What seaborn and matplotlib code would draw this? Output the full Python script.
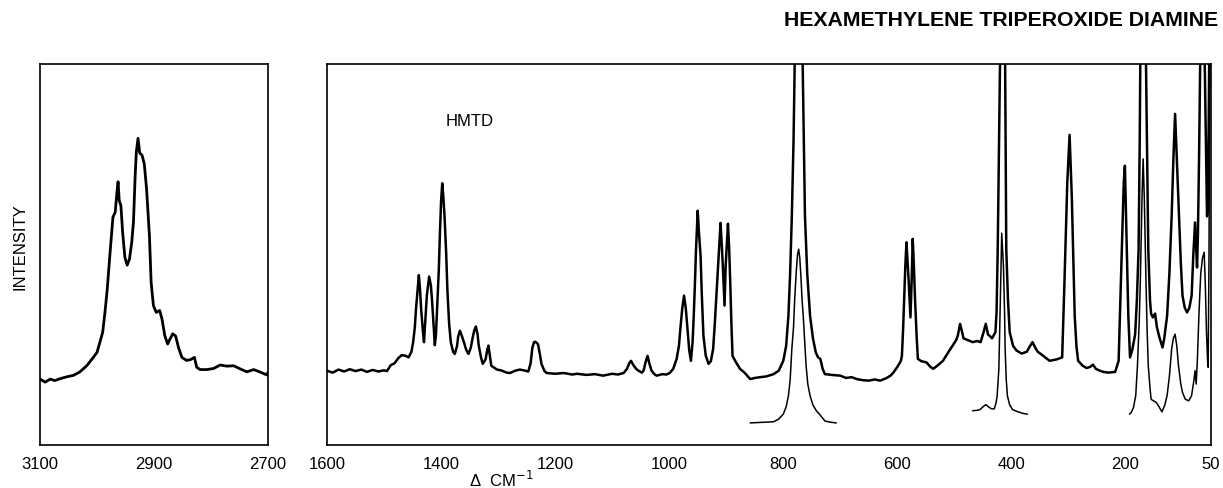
import numpy as np
import pandas as pd
import matplotlib
matplotlib.use("Agg")
import matplotlib.pyplot as plt
import seaborn as sns

# C-H stretch region (left panel)
ch_wn = [3100, 3091, 3082, 3074, 3065, 3053, 3041, 3030, 3018, 3009, 3000, 2995,
         2990, 2986, 2982, 2977, 2972, 2968, 2965, 2963, 2961, 2958, 2955, 2951,
         2947, 2943, 2939, 2936, 2933, 2931, 2928, 2925, 2921, 2917, 2913, 2908,
         2905, 2901, 2896, 2890, 2886, 2881, 2876, 2872, 2867, 2862, 2857, 2851,
         2843, 2836, 2829, 2825, 2819, 2807, 2795, 2784, 2772, 2760, 2749, 2737,
         2725, 2713, 2702, 2700]
ch_int = [17.3, 16.5, 17.3, 16.9, 17.4, 17.9, 18.3, 19.2, 20.8, 22.5, 24.3, 26.9,
          29.6, 34.8, 40.9, 50.6, 59.8, 61.1, 66.3, 69.1, 64.2, 62.8, 55.8, 49.2,
          47.2, 48.8, 53.2, 58.5, 70.7, 76.8, 80.5, 76.6, 76.1, 73.8, 67.2, 55.0,
          42.7, 36.6, 34.8, 35.3, 33.1, 28.7, 26.5, 27.8, 29.2, 28.6, 25.6, 23.0,
          22.2, 22.4, 23.0, 20.4, 19.8, 19.8, 20.1, 21.0, 20.7, 20.8, 20.0, 19.2,
          19.8, 19.1, 18.4, 19.1]

# fingerprint region, main trace
fp_wn = [1600, 1590, 1580, 1570, 1560, 1550, 1540, 1530, 1520, 1510, 1500, 1495,
         1488, 1482, 1475, 1469, 1462, 1457, 1452, 1449, 1446, 1444, 1441, 1439,
         1437, 1435, 1432, 1430, 1428, 1425, 1421, 1418, 1416, 1413, 1411, 1409,
         1407, 1404, 1402, 1400, 1398, 1396, 1394, 1391, 1389, 1386, 1383, 1379,
         1376, 1372, 1370, 1367, 1364, 1360, 1356, 1352, 1348, 1345, 1342, 1339,
         1336, 1334, 1330, 1327, 1322, 1319, 1317, 1315, 1312, 1306, 1302, 1295,
         1285, 1279, 1270, 1262, 1255, 1247, 1243, 1240, 1237, 1235, 1232, 1230,
         1227, 1224, 1219, 1215, 1200, 1185, 1170, 1162, 1145, 1130, 1116, 1100,
         1090, 1080, 1074, 1070, 1067, 1063, 1058, 1054, 1048, 1045, 1041, 1038,
         1035, 1031, 1026, 1022, 1012, 1005, 999, 993, 987, 983, 980, 977,
         974, 971, 968, 965, 962, 959, 957, 955, 953, 950, 948, 945,
         943, 940, 936, 931, 927, 923, 920, 916, 913, 910, 908, 906,
         903, 901, 897, 895, 893, 891, 889, 884, 876, 868, 858, 850,
         841, 830, 817, 808, 800, 795, 791, 788, 785, 782, 780, 777,
         773, 769, 766, 764, 762, 758, 753, 748, 743, 739, 735, 731,
         727, 715, 700, 690, 680, 671, 660, 650, 640, 630, 620, 612,
         607, 600, 594, 592, 590, 588, 586, 584, 582, 580, 577, 575,
         573, 571, 569, 566, 564, 558, 549, 542, 537, 530, 520, 510,
         503, 497, 494, 490, 487, 484, 476, 468, 460, 454, 449, 445,
         441, 437, 434, 428, 426, 424, 422, 420, 417, 414, 411, 409,
         406, 403, 397, 391, 382, 373, 368, 363, 358, 354, 345, 333,
         320, 311, 307, 302, 298, 294, 289, 286, 283, 275, 268, 262,
         257, 252, 245, 239, 230, 218, 212, 208, 203, 201, 199, 195,
         192, 188, 183, 180, 177, 175, 174, 170, 164, 162, 160, 157,
         155, 152, 148, 145, 140, 135, 132, 127, 123, 119, 116, 113,
         110, 107, 103, 100, 96, 92, 88, 84, 81, 78, 76, 74.5,
         73, 71, 69, 67, 64, 61, 59, 57, 55.5, 54, 53, 51.5]
fp_int = [19.5, 19.0, 19.8, 19.3, 19.9, 19.4, 19.8, 19.2, 19.7, 19.3, 19.6, 19.4,
          21.0, 21.4, 22.8, 23.6, 23.4, 23.0, 24.5, 27.0, 31.0, 35.7, 41.0, 44.6,
          41.0, 35.7, 30.0, 27.0, 32.0, 39.2, 44.2, 42.0, 38.3, 31.0, 26.2, 29.0,
          35.7, 46.0, 55.8, 64.0, 68.7, 65.0, 60.2, 50.0, 40.9, 32.0, 27.0, 24.5,
          23.9, 26.0, 28.5, 30.0, 28.8, 27.0, 25.0, 23.9, 25.5, 27.9, 30.0, 31.1,
          29.0, 26.1, 23.0, 21.3, 22.5, 25.0, 26.1, 24.0, 20.8, 20.2, 19.8, 19.6,
          19.0, 18.9, 19.5, 19.8, 19.6, 19.3, 21.5, 25.5, 27.0, 27.1, 26.8, 26.4,
          24.0, 21.3, 19.5, 18.9, 18.7, 18.9, 18.5, 18.7, 18.4, 18.6, 18.2, 18.7,
          18.5, 18.9, 20.0, 21.5, 22.1, 21.0, 20.0, 19.5, 19.0, 19.5, 22.0, 23.4,
          21.5, 19.5, 18.6, 18.2, 18.6, 18.5, 18.9, 20.0, 22.6, 26.0, 31.3, 36.0,
          39.2, 36.0, 30.4, 25.0, 22.1, 27.0, 33.9, 42.0, 51.4, 61.5, 56.0, 49.7,
          40.0, 28.7, 23.5, 21.3, 22.0, 25.2, 32.0, 42.7, 51.0, 58.3, 53.0, 47.1,
          36.6, 47.1, 58.1, 52.0, 42.7, 32.0, 23.4, 22.0, 20.0, 19.0, 17.3, 17.6,
          17.8, 18.0, 18.6, 19.5, 22.1, 26.0, 33.9, 45.0, 60.2, 80.0, 100.0, 120.0,
          130.0, 120.0, 100.0, 80.0, 60.2, 45.0, 33.9, 28.0, 24.3, 23.0, 22.6, 20.0,
          18.6, 18.4, 18.2, 17.6, 17.8, 17.3, 17.0, 16.9, 17.2, 16.9, 17.5, 18.2,
          19.0, 20.5, 22.0, 23.4, 30.0, 38.3, 47.0, 53.2, 48.0, 42.7, 33.5, 42.7,
          54.1, 47.0, 38.3, 28.0, 22.6, 22.0, 21.7, 20.5, 20.0, 20.8, 22.1, 24.5,
          26.1, 27.5, 28.7, 31.8, 30.0, 28.0, 27.5, 27.0, 27.3, 27.0, 29.5, 31.8,
          29.0, 28.5, 28.0, 29.6, 35.0, 51.4, 75.0, 100.0, 120.0, 125.0, 100.0, 51.4,
          38.0, 29.6, 26.0, 24.8, 24.0, 24.5, 25.8, 27.0, 25.5, 24.5, 23.5, 22.1,
          22.5, 23.0, 42.7, 68.9, 81.4, 64.6, 33.9, 26.0, 22.1, 20.8, 20.2, 20.5,
          21.1, 20.0, 19.5, 19.2, 19.0, 19.2, 22.1, 42.7, 68.9, 73.3, 60.2, 33.9,
          23.0, 25.0, 29.1, 38.0, 51.4, 80.0, 100.0, 130.0, 100.0, 75.0, 51.4, 38.0,
          34.4, 33.5, 34.5, 31.0, 28.0, 25.6, 28.0, 33.9, 45.0, 60.2, 75.0, 86.9,
          75.0, 63.0, 48.0, 39.2, 36.0, 34.8, 36.0, 39.2, 50.0, 58.4, 52.0, 46.6,
          55.0, 75.0, 100.0, 115.0, 115.0, 100.0, 80.0, 60.0, 62.0, 85.0, 105.0, 120.0]

# reduced-gain traces under the strong bands
ins1_wn = [858, 845, 830, 817, 808, 800, 795, 791, 788, 785, 782, 780, 777, 775,
           773, 771, 769, 767, 765, 762, 760, 757, 753, 748, 742, 735, 727, 718, 707]
ins1_int = [5.8, 5.9, 6.0, 6.1, 6.8, 8.1, 10.0, 12.9, 17.0, 25.2, 31.0, 38.3, 46.0, 50.0,
            51.4, 49.0, 44.0, 38.0, 33.9, 26.0, 20.8, 16.0, 12.9, 10.5, 9.0, 7.8, 6.3, 6.0, 5.8]

ins2_wn = [468, 460, 455, 450, 445, 440, 435, 430, 427, 425, 422, 420, 418, 417,
           415, 414, 412, 411, 409, 407, 403, 398, 390, 380, 372]
ins2_int = [9.0, 9.1, 9.3, 10.0, 10.6, 10.0, 9.5, 9.5, 11.0, 12.9, 20.0, 33.9, 48.0, 55.6,
            50.0, 47.1, 35.0, 25.2, 17.0, 12.9, 10.5, 9.3, 8.8, 8.3, 8.1]

ins3_wn = [193, 190, 186, 182, 179, 176, 174, 171, 169, 167, 164, 162, 160, 157,
           155, 150, 146, 141, 136, 131, 127, 123, 119, 116, 113, 110, 107, 103,
           100, 95, 89, 84, 80, 78, 76, 74, 71, 68, 65, 62, 60, 58, 56, 55,
           53.5, 52]
ins3_int = [8.1, 8.5, 9.8, 13.0, 20.8, 32.0, 42.7, 65.0, 75.1, 65.0, 42.7, 30.0, 20.8, 15.0,
            12.0, 11.5, 11.2, 10.0, 8.7, 10.5, 13.0, 18.0, 25.2, 28.0, 29.1, 26.0, 20.8, 16.0,
            13.8, 12.0, 11.6, 13.0, 17.0, 19.5, 16.0, 22.0, 35.0, 45.0, 49.0, 50.6, 42.0, 30.0, 22.0, 20.4,
            50.0, 110.0]

left_ticks = [3100, 3000, 2900, 2800, 2700]
left_labels = ["3100", "", "2900", "", "2700"]
right_ticks = [1600, 1500, 1400, 1300, 1200, 1100, 1000, 900, 800, 700, 600, 500, 400, 300, 200, 100, 50]
right_labels = ["1600", "", "1400", "", "1200", "", "1000", "", "800", "", "600", "", "400", "", "200", "", "50"]

sns.set_style("white")
plt.rcParams['font.family'] = ['Liberation Sans', 'DejaVu Sans']
plt.rcParams['text.color'] = 'black'

fig = plt.figure(figsize=(12.23, 4.89), dpi=100)
ax1 = fig.add_axes([0.0327, 0.0879, 0.1864, 0.7792])
ax2 = fig.add_axes([0.2674, 0.0879, 0.7228, 0.7792])

df_ch = pd.DataFrame({"wn": ch_wn, "I": ch_int})
sns.lineplot(data=df_ch, x="wn", y="I", ax=ax1, color="black", lw=2.0, estimator=None, sort=False)

df_fp = pd.DataFrame({"wn": fp_wn, "I": fp_int})
sns.lineplot(data=df_fp, x="wn", y="I", ax=ax2, color="black", lw=1.8, estimator=None, sort=False)
for wn, it in [(ins1_wn, ins1_int), (ins2_wn, ins2_int), (ins3_wn, ins3_int)]:
    d = pd.DataFrame({"wn": wn, "I": it})
    sns.lineplot(data=d, x="wn", y="I", ax=ax2, color="black", lw=1.1, estimator=None, sort=False)

ax1.set_xlim(3100, 2700)
ax2.set_xlim(1600, 50)
for ax, ticks, labels in [(ax1, left_ticks, left_labels), (ax2, right_ticks, right_labels)]:
    ax.set_ylim(0, 100)
    ax.set_xticks(ticks)
    ax.set_xticklabels(labels)
    ax.set_yticks([])
    ax.set_xlabel("")
    ax.set_ylabel("")
    ax.tick_params(axis="x", direction="in", length=7, width=1.1, labelsize=12, pad=8,
                   colors="black", labelcolor="black")
    for s in ax.spines.values():
        s.set_color("black")
        s.set_linewidth(1.2)

fig.text(0.016, 0.495, "INTENSITY", rotation=90, ha="center", va="center", fontsize=12, color="black")
fig.text(0.384, 0.752, "HMTD", ha="center", va="center", fontsize=12, color="black")
fig.text(0.41, 0.018, "Δ  CM$^{-1}$", ha="center", va="center", fontsize=12, color="black")
fig.text(0.996, 0.958, "HEXAMETHYLENE TRIPEROXIDE DIAMINE", ha="right", va="center",
         fontsize=15.3, fontweight="bold", color="black")

fig.savefig("out.png", dpi=100)
